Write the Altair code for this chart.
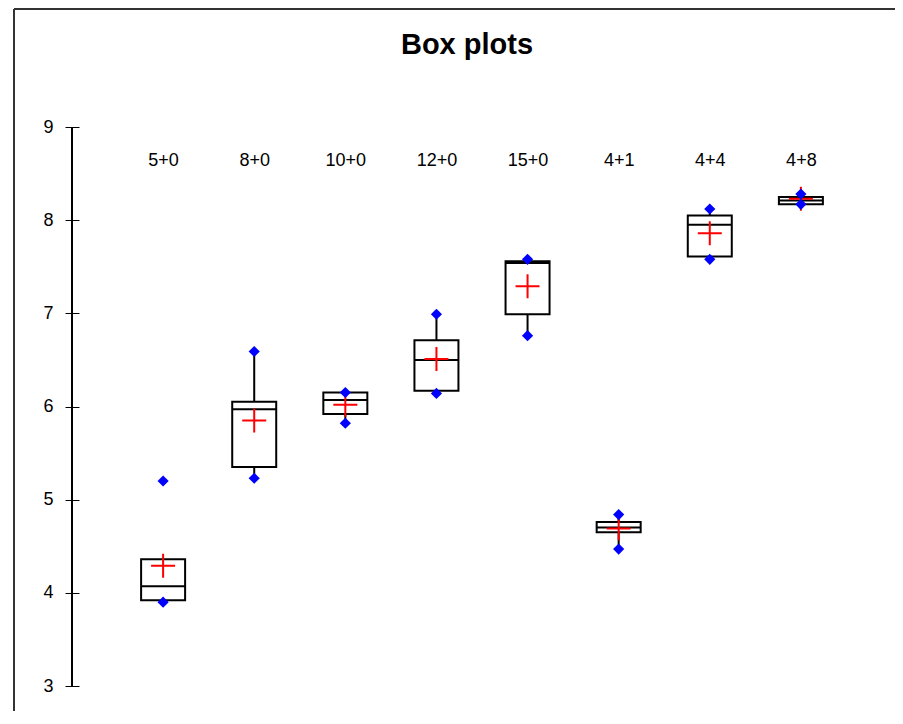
import altair as alt
import pandas as pd

# ---- data ----
categories = ["5+0", "8+0", "10+0", "12+0", "15+0", "4+1", "4+4", "4+8"]
minimum    = [3.90, 5.23, 5.82, 6.14, 6.76, 4.47, 7.58, 8.17]
q1         = [3.92, 5.35, 5.92, 6.17, 6.99, 4.65, 7.61, 8.17]
median     = [4.07, 5.97, 6.07, 6.50, 7.54, 4.70, 7.95, 8.21]
q3         = [4.36, 6.05, 6.15, 6.71, 7.56, 4.76, 8.05, 8.25]
maximum    = [5.20, 6.59, 6.15, 6.99, 7.58, 4.84, 8.12, 8.28]
mean       = [4.29, 5.85, 6.02, 6.51, 7.29, 4.69, 7.86, 8.23]
whisk_lo   = [3.90, 5.23, 5.82, 6.14, 6.76, 4.47, 7.58, 8.17]
whisk_hi   = [4.36, 6.59, 6.15, 6.99, 7.58, 4.84, 8.12, 8.28]
y_ticks    = [3, 4, 5, 6, 7, 8, 9]

df = pd.DataFrame({
    "cat": categories, "min": minimum, "q1": q1, "median": median,
    "q3": q3, "max": maximum, "mean": mean, "wlo": whisk_lo, "whi": whisk_hi,
})
pts = pd.DataFrame({
    "cat": categories * 2,
    "v": minimum + maximum,
})

FONT = "Liberation Sans"
W, H = 820, 559

x = alt.X(
    "cat:N", sort=categories,
    scale=alt.Scale(type="point", padding=1),
    axis=alt.Axis(orient="top", domain=False, ticks=False, labelAngle=0,
                  labelFont=FONT, labelFontSize=18, labelColor="black",
                  offset=-33, labelPadding=0, labelBaseline="middle", title=None),
)
yscale = alt.Scale(domain=[3, 9], nice=False, zero=False)
yaxis = alt.Axis(values=y_ticks, format="d", tickSize=14, offset=-7, domain=False, grid=False,
                 labelPadding=12, labelFont=FONT, labelFontSize=18, labelColor="black",
                 tickColor="black", tickWidth=1, title=None)

base = alt.Chart(df)

whisk_low = base.mark_rule(color="black", strokeWidth=2).encode(
    x=x, y=alt.Y("wlo:Q", scale=yscale, axis=yaxis), y2="q1:Q")
whisk_high = base.mark_rule(color="black", strokeWidth=2).encode(
    x=x, y=alt.Y("q3:Q", scale=yscale), y2="whi:Q")
boxes = base.mark_bar(size=44, fill="white", stroke="black", strokeWidth=2).encode(
    x=x, y=alt.Y("q1:Q", scale=yscale), y2="q3:Q")
med = base.mark_tick(size=44, thickness=2, color="black", opacity=1, orient="horizontal").encode(
    x=x, y=alt.Y("median:Q", scale=yscale))
means = base.mark_point(shape="M-1,0L1,0M0,-1L0,1", filled=False, stroke="#FF0000",
                        strokeWidth=2, size=576, opacity=1).encode(
    x=x, y=alt.Y("mean:Q", scale=yscale))
diamonds = alt.Chart(pts).mark_point(shape="diamond", filled=True, color="#0000FF",
                                     size=125, opacity=1).encode(
    x=x, y=alt.Y("v:Q", scale=yscale))

axis_line = alt.Chart(df).mark_rule(color="black", strokeWidth=1).encode(
    x=alt.value(0), y=alt.value(0), y2=alt.value(H))
frame_left = alt.Chart(df).mark_rule(color="#333333", strokeWidth=2).encode(
    x=alt.value(-58), y=alt.value(-118), y2=alt.value(H + 40))
frame_top = alt.Chart(df).mark_rule(color="#333333", strokeWidth=2).encode(
    x=alt.value(-58), x2=alt.value(W + 10), y=alt.value(-118))

chart = alt.layer(
    frame_left, frame_top, axis_line, whisk_low, whisk_high, boxes, med, means, diamonds
).properties(
    width=W, height=H,
    title=alt.TitleParams("Box plots", font=FONT, fontSize=29, fontWeight="bold",
                          color="black", anchor="middle", dx=-15, offset=-52),
    padding={"left": 64, "top": 119, "right": 3, "bottom": 25},
    autosize=alt.AutoSizeParams(type="none"),
).configure_view(stroke=None)

chart.save("out.html", embed_options={"renderer": "svg", "actions": False})
